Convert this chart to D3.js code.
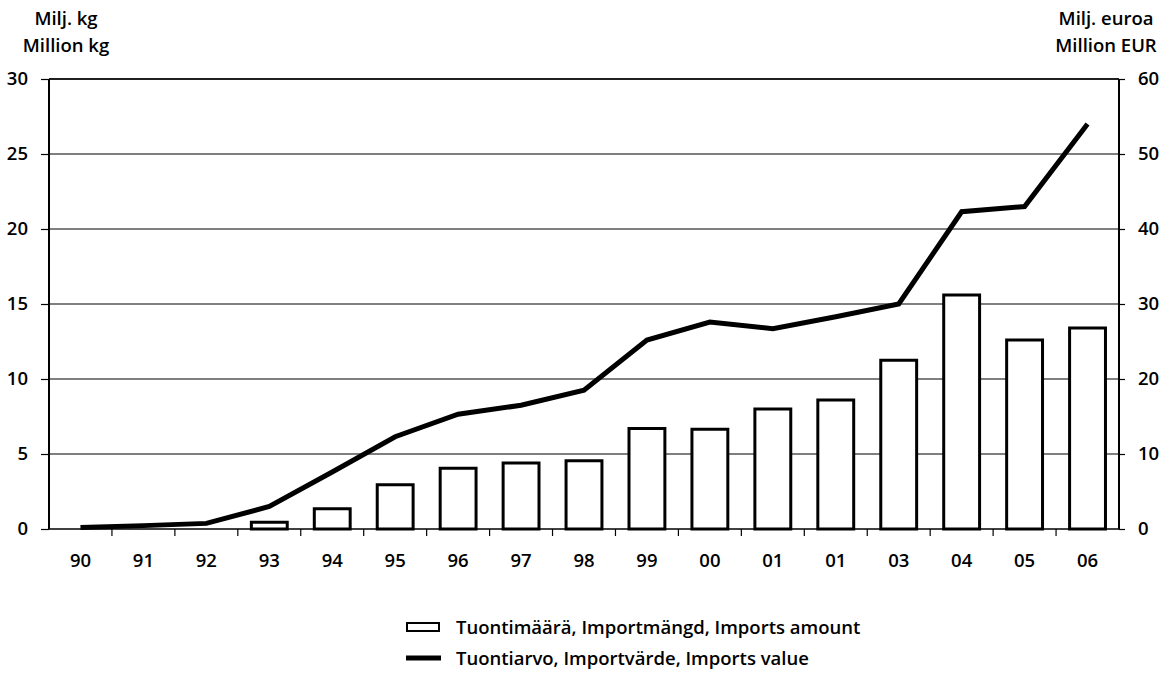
<!DOCTYPE html>
<html>
<head>
<meta charset="utf-8">
<script src="https://cdn.jsdelivr.net/npm/d3@7"></script>
<style>
  body { margin: 0; background: #fff; }
  svg { display: block; }
  text { font-family: "Open Sans", "DejaVu Sans", sans-serif; fill: #000; }
</style>
</head>
<body>
<svg id="chart" width="1174" height="679"></svg>
<script>
const categories = ["90","91","92","93","94","95","96","97","98","99","00","01","01 ","03","04","05","06"];
const amountKg = [0, 0, 0, 0.45, 1.35, 2.95, 4.05, 4.4, 4.55, 6.7, 6.65, 8.0, 8.6, 11.25, 15.6, 12.6, 13.4];
const valueEur = [0.2, 0.45, 0.75, 3.0, 7.6, 12.3, 15.3, 16.5, 18.5, 25.2, 27.6, 26.7, 28.3, 30.0, 42.3, 43.0, 54.0];
const leftTicks = [0, 5, 10, 15, 20, 25, 30];
const rightTicks = [0, 10, 20, 30, 40, 50, 60];
const leftTitle = ["Milj. kg", "Million kg"];
const rightTitle = ["Milj. euroa", "Million EUR"];
const legendLabels = ["Tuontimäärä, Importmängd, Imports amount", "Tuontiarvo, Importvärde, Imports value"];

const FS = "18.5px", FW = "600";
const svg = d3.select("#chart");
const m = { left: 49, right: 1119, top: 79, bottom: 529 };

const x = d3.scaleBand().domain(categories).range([m.left, m.right]).paddingInner(0.43).paddingOuter(0.215);
const xb = d3.scaleBand().domain(categories).range([m.left, m.right]);
const yL = d3.scaleLinear().domain([0, 30]).range([m.bottom, m.top]);
const yR = d3.scaleLinear().domain([0, 60]).range([m.bottom, m.top]);

// gridlines
svg.append("g").selectAll("line").data(leftTicks.filter(d => d > 0)).join("line")
  .attr("x1", m.left).attr("x2", m.right)
  .attr("y1", d => yL(d)).attr("y2", d => yL(d))
  .attr("stroke", "#000").attr("stroke-width", 1.2);

// bars
svg.append("g").selectAll("rect").data(categories.map((c, i) => ({ c, v: amountKg[i] })).filter(d => d.v > 0)).join("rect")
  .attr("x", d => x(d.c)).attr("width", x.bandwidth())
  .attr("y", d => yL(d.v)).attr("height", d => yL(0) - yL(d.v))
  .attr("fill", "#fff").attr("stroke", "#000").attr("stroke-width", 3);

// left axis
const gL = svg.append("g").attr("transform", `translate(${m.left},0)`)
  .call(d3.axisLeft(yL).tickValues(leftTicks).tickSize(8).tickPadding(13));
gL.select(".domain").attr("stroke-width", 2).attr("d", `M0,${m.bottom}V${m.top}`);
gL.selectAll(".tick line").attr("stroke-width", 1.2);
gL.selectAll("text").style("font-size", FS).style("font-weight", FW);

// right axis
const gR = svg.append("g").attr("transform", `translate(${m.right},0)`)
  .call(d3.axisRight(yR).tickValues(rightTicks).tickSize(6).tickPadding(13));
gR.select(".domain").attr("stroke-width", 2).attr("d", `M0,${m.bottom}V${m.top}`);
gR.selectAll(".tick line").attr("stroke-width", 1.2);
gR.selectAll("text").style("font-size", FS).style("font-weight", FW);

// bottom axis
const gB = svg.append("g").attr("transform", `translate(0,${m.bottom})`)
  .call(d3.axisBottom(x).tickSize(0).tickPadding(25));
gB.select(".domain").attr("stroke-width", 1.5).attr("d", `M${m.left},0H${m.right}`);
gB.selectAll("text").style("font-size", FS).style("font-weight", FW);
// boundary ticks
svg.append("g").selectAll("line").data(categories.slice(1)).join("line")
  .attr("x1", d => xb(d)).attr("x2", d => xb(d))
  .attr("y1", m.bottom).attr("y2", m.bottom + 7)
  .attr("stroke", "#000").attr("stroke-width", 1.2);

// top border
svg.append("line").attr("x1", m.left).attr("x2", m.right).attr("y1", m.top).attr("y2", m.top)
  .attr("stroke", "#000").attr("stroke-width", 1.5);

// value line
const line = d3.line().x((d, i) => x(categories[i]) + x.bandwidth() / 2).y(d => yR(d));
svg.append("path").datum(valueEur).attr("d", line)
  .attr("fill", "none").attr("stroke", "#000").attr("stroke-width", 5).attr("stroke-linejoin", "miter");

// axis titles
svg.append("g").selectAll("text").data(leftTitle).join("text")
  .attr("x", 66).attr("y", (d, i) => 25 + i * 27).attr("text-anchor", "middle")
  .style("font-size", FS).style("font-weight", FW).text(d => d);
svg.append("g").selectAll("text").data(rightTitle).join("text")
  .attr("x", 1106).attr("y", (d, i) => 25 + i * 27).attr("text-anchor", "middle")
  .style("font-size", FS).style("font-weight", FW).text(d => d);

// legend
const lg = svg.append("g");
lg.append("rect").attr("x", 407).attr("y", 623).attr("width", 32).attr("height", 8)
  .attr("fill", "#fff").attr("stroke", "#000").attr("stroke-width", 2);
lg.append("line").attr("x1", 406).attr("x2", 441).attr("y1", 658).attr("y2", 658)
  .attr("stroke", "#000").attr("stroke-width", 5);
lg.selectAll("text").data(legendLabels).join("text")
  .attr("x", 456).attr("y", (d, i) => 634 + i * 31)
  .style("font-size", FS).style("font-weight", FW).text(d => d);
</script>
</body>
</html>
